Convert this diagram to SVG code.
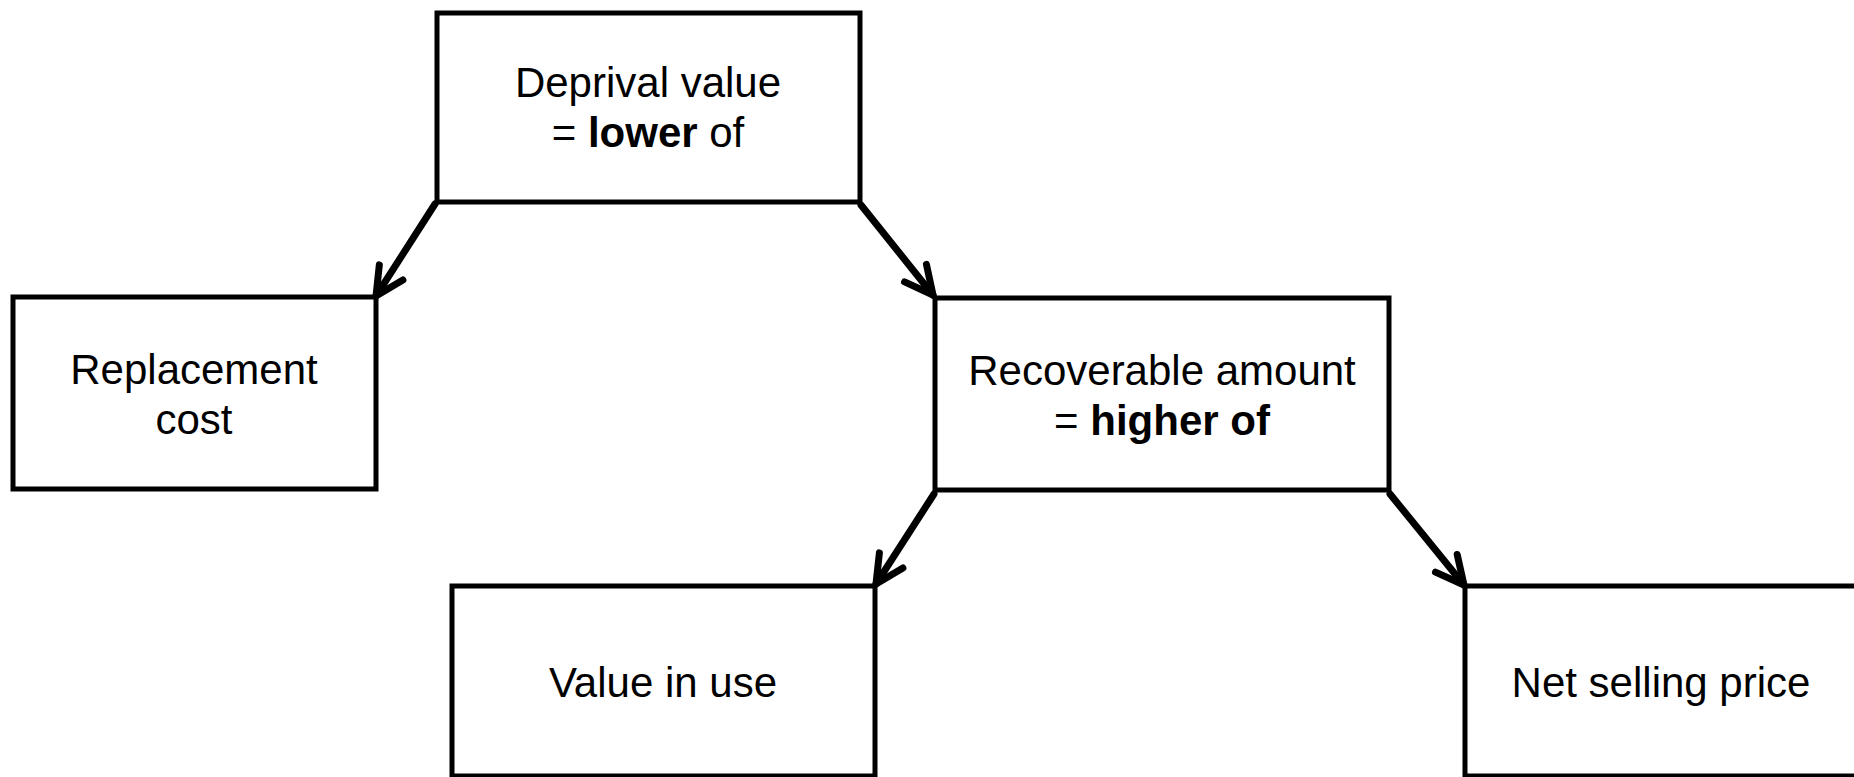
<svg xmlns="http://www.w3.org/2000/svg" width="1854" height="777" viewBox="0 0 1854 777">
<style>
.box{fill:#fff;stroke:#000;stroke-width:5}
.t{font-family:"Liberation Sans",Arial,sans-serif;font-size:42px;fill:#000;text-anchor:middle}
.b{font-weight:bold}
.c{fill:none;stroke:#000;stroke-width:7;stroke-linecap:round;stroke-linejoin:round}
</style>
<defs>
<marker id="ah" markerUnits="userSpaceOnUse" orient="auto" refX="0" refY="0" markerWidth="60" markerHeight="60" viewBox="-40 -30 60 60" overflow="visible">
<path d="M -28 -14 L 0 0 L -28 14" fill="none" stroke="#000" stroke-width="7" stroke-linecap="round" stroke-linejoin="round"/>
</marker>
</defs>
<rect width="1854" height="777" fill="#fff"/>
<g id="connectors">
<line class="c" x1="435" y1="204" x2="376" y2="296" marker-end="url(#ah)"/>
<line class="c" x1="861" y1="205" x2="933" y2="295" marker-end="url(#ah)"/>
<line class="c" x1="934" y1="494" x2="876" y2="584" marker-end="url(#ah)"/>
<line class="c" x1="1390" y1="494" x2="1464" y2="585" marker-end="url(#ah)"/>
</g>
<g id="deprival">
<rect class="box" x="437" y="13" width="423" height="189"/>
<text class="t" x="648" y="97">Deprival value</text>
<text class="t" x="648" y="147">= <tspan class="b">lower</tspan> of</text>
</g>
<g id="replacement">
<rect class="box" x="13" y="297" width="363" height="192"/>
<text class="t" x="194" y="384">Replacement</text>
<text class="t" x="194" y="434">cost</text>
</g>
<g id="recoverable">
<rect class="box" x="935" y="298" width="454" height="192"/>
<text class="t" x="1162" y="385">Recoverable amount</text>
<text class="t" x="1162" y="435">= <tspan class="b">higher of</tspan></text>
</g>
<g id="valueinuse">
<rect class="box" x="452" y="586" width="423" height="190"/>
<text class="t" x="663" y="697">Value in use</text>
</g>
<g id="netselling">
<rect class="box" x="1465" y="586" width="392" height="190"/>
<text class="t" x="1661" y="697">Net selling price</text>
</g>
</svg>
